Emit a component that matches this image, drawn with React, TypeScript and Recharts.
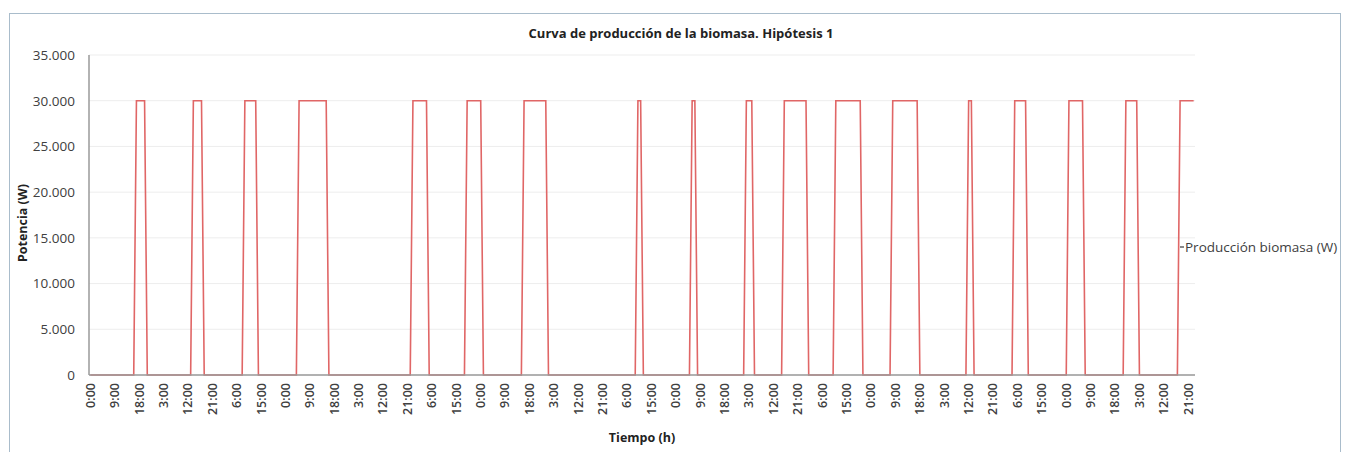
import { LineChart, Line, XAxis, YAxis, CartesianGrid, Legend } from "recharts";

// horas (índice horario) en que empieza y termina cada tramo a plena potencia
const encendido = [17, 38, 57, 77, 119, 139, 160, 202, 222, 242, 256, 275, 296, 324, 341, 361, 382, 402];
const apagado = [20, 41, 61, 87, 124, 144, 168, 203, 223, 244, 264, 284, 305, 325, 345, 366, 386, 407];
const potenciaMax = 30000;
const ultimaHora = 407;

const etiquetasHora = [
  "0:00", "9:00", "18:00", "3:00", "12:00", "21:00", "6:00", "15:00",
  "0:00", "9:00", "18:00", "3:00", "12:00", "21:00", "6:00", "15:00",
  "0:00", "9:00", "18:00", "3:00", "12:00", "21:00", "6:00", "15:00",
  "0:00", "9:00", "18:00", "3:00", "12:00", "21:00", "6:00", "15:00",
  "0:00", "9:00", "18:00", "3:00", "12:00", "21:00", "6:00", "15:00",
  "0:00", "9:00", "18:00", "3:00", "12:00", "21:00",
];
const ticksY = [0, 5000, 10000, 15000, 20000, 25000, 30000, 35000];

// puntos de cambio de la curva
const data: { hora: number; potencia: number }[] = [{ hora: 0, potencia: 0 }];
encendido.forEach((ini, i) => {
  const fin = apagado[i];
  data.push({ hora: ini - 1, potencia: 0 });
  data.push({ hora: ini, potencia: potenciaMax });
  data.push({ hora: fin, potencia: potenciaMax });
  if (fin < ultimaHora) data.push({ hora: fin + 1, potencia: 0 });
});

const ticksX = etiquetasHora.map((_, i) => i * 9);
const miles = (v: number) => String(v).replace(/\B(?=(\d{3})+(?!\d))/g, ".");
const rojo = "#e06666";
const fuente = "'Open Sans', sans-serif";

const TickHora = (props: any) => {
  const { x, y, payload } = props;
  return (
    <text
      x={x}
      y={y}
      transform={`rotate(-90 ${x} ${y})`}
      textAnchor="end"
      dy="0.35em"
      fontSize={12.5}
      fontWeight={600}
      fill="#404040"
      fontFamily={fuente}
    >
      {etiquetasHora[Math.round(payload.value / 9)]}
    </text>
  );
};

const Leyenda = () => (
  <div style={{ display: "flex", alignItems: "center", fontFamily: fuente, fontSize: 13.5, color: "#404040", whiteSpace: "nowrap" }}>
    <span style={{ display: "inline-block", width: 4, height: 1.5, background: "#888", marginRight: 1 }} />
    Producción biomasa (W)
  </div>
);

export default function App() {
  return (
    <div style={{ position: "absolute", left: 0, top: 0, width: 1350, height: 452, background: "#fff", overflow: "hidden" }}>
      <div style={{ position: "absolute", left: 9, top: 13, width: 1330, height: 460, border: "1.5px solid #a9bccb" }} />
      <div style={{ position: "absolute", left: 0, top: 24, width: 1362, textAlign: "center", fontFamily: fuente, fontWeight: 700, fontSize: 13, color: "#222" }}>
        Curva de producción de la biomasa. Hipótesis 1
      </div>
      <div
        style={{
          position: "absolute", left: 22, top: 223, transform: "translate(-50%, -50%) rotate(-90deg)",
          fontFamily: fuente, fontWeight: 700, fontSize: 12.5, color: "#222", whiteSpace: "nowrap",
        }}
      >
        Potencia (W)
      </div>
      <LineChart
        width={1350}
        height={452}
        data={data}
        margin={{ top: 55, right: 155, bottom: 0, left: 9 }}
        style={{ position: "absolute", left: 0, top: 0, fontFamily: fuente }}
      >
        <CartesianGrid vertical={false} stroke="#ededed" />
        <XAxis
          dataKey="hora"
          type="number"
          domain={[-0.5, ultimaHora + 0.5]}
          ticks={ticksX}
          interval={0}
          tick={<TickHora />}
          tickLine={false}
          height={77}
          stroke="#9a9a9a"
          strokeWidth={1.5}
          label={{ value: "Tiempo (h)", position: "insideBottom", offset: 10, fontSize: 12.5, fontWeight: 700, fill: "#222" }}
        />
        <YAxis
          domain={[0, 35000]}
          ticks={ticksY}
          tickFormatter={miles}
          width={80}
          tickLine={false}
          tickMargin={8}
          stroke="#9a9a9a"
          strokeWidth={1.5}
          tick={{ fontSize: 13.5, fill: "#404040" }}
        />
        <Legend
          layout="vertical"
          align="center"
          verticalAlign="middle"
          content={<Leyenda />}
          wrapperStyle={{ left: 1180, top: 238, width: 170 }}
        />
        <Line
          type="linear"
          dataKey="potencia"
          name="Producción biomasa (W)"
          stroke={rojo}
          strokeWidth={1.6}
          dot={false}
          isAnimationActive={false}
        />
      </LineChart>
    </div>
  );
}
